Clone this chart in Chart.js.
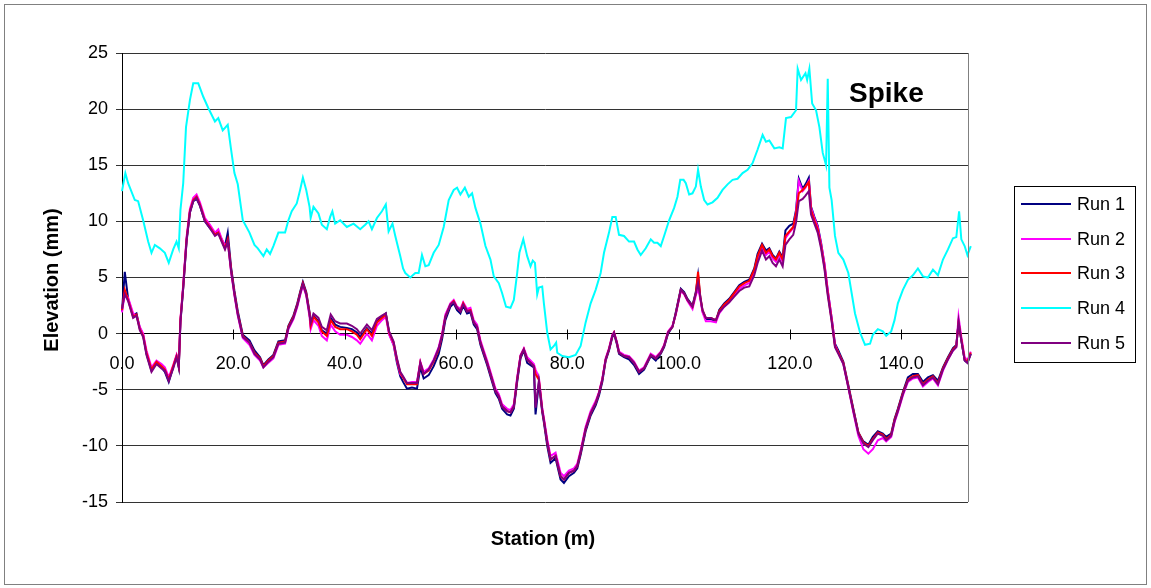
<!DOCTYPE html>
<html>
<head>
<meta charset="utf-8">
<title>Spike – Elevation profile</title>
<script src="https://cdn.jsdelivr.net/npm/chart.js@4/dist/chart.umd.min.js"></script>
<style>
  html, body { margin: 0; padding: 0; background: #ffffff; }
  canvas { display: block; }
</style>
</head>
<body>
<canvas id="chart" width="1151" height="588"></canvas>
<script>
// Survey stations (m) shared by runs 1, 2, 3 and 5
const stations = [
  0.0, 0.5, 1.1, 2.0, 2.6, 3.2, 3.8, 4.4, 5.3, 6.2,
  7.1, 7.7, 8.4, 9.2, 9.8, 10.2, 10.5, 11.0, 11.6, 12.2,
  12.8, 13.4, 14.0, 14.9, 15.8, 16.7, 17.3, 17.8, 18.5, 19.0,
  19.6, 20.2, 20.8, 21.7, 22.9, 23.8, 24.8, 25.4, 26.3, 27.2,
  28.1, 29.3, 29.9, 30.8, 31.5, 32.0, 32.5, 33.1, 33.7, 33.9,
  34.4, 35.3, 35.9, 36.8, 37.5, 38.3, 39.2, 40.4, 41.3, 42.2,
  42.8, 44.0, 44.9, 45.8, 46.7, 47.4, 48.0, 48.8, 49.4, 50.0,
  50.5, 51.2, 52.1, 53.0, 53.6, 54.2, 55.1, 56.0, 56.9, 57.5,
  58.1, 59.0, 59.6, 60.2, 60.8, 61.3, 62.0, 62.6, 63.2, 63.8,
  64.4, 65.0, 65.6, 66.5, 67.1, 67.7, 68.3, 69.2, 69.8, 70.4,
  71.0, 71.6, 72.2, 72.8, 73.4, 74.0, 74.3, 74.9, 75.5, 75.8,
  76.4, 77.0, 77.9, 78.8, 79.4, 80.3, 81.2, 81.8, 82.4, 83.3,
  84.2, 85.1, 85.7, 86.3, 86.9, 87.5, 88.1, 88.4, 88.9, 89.3,
  90.2, 91.1, 92.0, 92.9, 93.8, 95.0, 95.9, 96.8, 97.4, 98.1,
  98.9, 99.5, 100.4, 101.0, 101.6, 102.5, 103.1, 103.5, 103.9, 104.3,
  104.9, 105.8, 106.7, 107.3, 108.2, 109.1, 110.0, 110.9, 111.8, 112.7,
  113.6, 114.2, 115.0, 115.7, 116.3, 116.9, 117.5, 118.1, 118.7, 119.2,
  119.9, 120.6, 121.1, 121.6, 122.3, 122.8, 123.4, 123.8, 124.4, 125.0,
  125.6, 126.2, 126.8, 127.5, 128.1, 128.7, 129.6, 130.5, 131.4, 132.3,
  133.2, 134.1, 134.9, 135.8, 136.7, 137.3, 138.2, 138.8, 139.4, 140.3,
  141.2, 142.1, 143.0, 143.9, 144.8, 145.7, 146.6, 147.5, 148.4, 149.3,
  149.9, 150.3, 150.8, 151.4, 151.9, 152.5
];

// Survey stations (m) for run 4
const stationsRun4 = [
  0.0, 0.6, 1.1, 2.3, 2.9, 3.8, 4.7, 5.3, 5.9, 6.8,
  7.7, 8.4, 9.2, 9.8, 10.2, 10.5, 11.0, 11.5, 12.2, 12.8,
  13.7, 14.6, 15.5, 16.7, 17.3, 18.1, 19.0, 19.6, 20.2, 20.8,
  21.7, 22.9, 23.8, 24.4, 25.4, 26.0, 26.6, 27.2, 28.1, 29.3,
  29.9, 30.5, 31.4, 32.0, 32.5, 33.1, 33.7, 33.9, 34.4, 35.3,
  35.9, 36.8, 37.4, 37.8, 38.3, 39.2, 40.4, 41.6, 42.8, 43.7,
  44.3, 44.9, 45.8, 46.7, 47.4, 47.9, 48.6, 49.1, 50.0, 50.5,
  50.9, 51.8, 52.7, 53.3, 53.9, 54.5, 55.1, 56.0, 56.9, 57.8,
  58.7, 59.6, 60.2, 60.8, 61.6, 62.3, 62.9, 63.5, 64.4, 65.3,
  66.2, 66.8, 67.7, 68.3, 69.0, 69.8, 70.4, 71.0, 71.4, 72.1,
  72.8, 73.4, 73.8, 74.2, 74.6, 74.9, 75.5, 75.8, 76.4, 77.0,
  77.6, 78.0, 78.2, 79.1, 80.3, 81.5, 82.4, 83.3, 84.2, 85.1,
  86.0, 86.6, 87.5, 88.1, 88.7, 89.3, 90.2, 91.1, 92.0, 92.6,
  93.2, 94.1, 95.0, 95.6, 96.2, 96.8, 97.4, 98.3, 99.2, 99.8,
  100.3, 100.9, 101.3, 101.9, 102.5, 103.1, 103.5, 104.0, 104.6, 105.2,
  106.1, 107.0, 107.9, 108.8, 109.7, 110.6, 111.5, 112.4, 113.3, 114.2,
  115.1, 115.7, 116.3, 117.2, 118.1, 118.7, 119.3, 120.2, 121.1, 121.4,
  122.0, 122.8, 123.1, 123.5, 124.0, 124.7, 125.3, 125.9, 126.5, 126.8,
  127.1, 127.5, 128.1, 128.7, 129.6, 130.5, 131.1, 131.7, 132.6, 133.5,
  134.4, 134.9, 135.8, 136.7, 137.3, 138.2, 138.8, 139.4, 140.3, 141.2,
  142.1, 143.0, 143.9, 144.8, 145.7, 146.6, 147.5, 148.4, 149.3, 149.9,
  150.4, 150.8, 151.4, 151.9, 152.5
];

// Elevations (mm)
const run1 = [
  2.0, 5.5, 3.1, 1.6, 1.8, 0.5, -0.1, -1.8, -3.3, -2.6,
  -3.0, -3.4, -4.3, -3.0, -2.0, -3.0, 1.0, 4.1, 8.2, 10.8,
  11.8, 12.0, 11.4, 10.0, 9.4, 8.9, 9.1, 8.5, 7.8, 9.0,
  5.9, 3.8, 2.0, -0.1, -0.6, -1.5, -2.1, -2.8, -2.3, -1.9,
  -0.7, -0.6, 0.7, 1.6, 2.7, 3.7, 4.6, 3.7, 1.9, 0.8,
  1.6, 1.1, 0.3, 0.0, 1.4, 0.8, 0.6, 0.5, 0.4, 0.1,
  -0.3, 0.5, 0.0, 1.1, 1.5, 1.8, 0.0, -1.0, -2.6, -3.8,
  -4.3, -4.9, -4.8, -4.9, -3.0, -4.0, -3.7, -2.9, -1.8, -0.5,
  1.2, 2.4, 2.7, 2.1, 1.8, 2.5, 1.8, 1.9, 0.8, 0.4,
  -1.0, -1.9, -2.8, -4.3, -5.3, -5.8, -6.7, -7.2, -7.3, -6.7,
  -4.3, -2.2, -1.5, -2.6, -2.8, -3.0, -7.2, -4.4, -7.0, -7.9,
  -10.0, -11.5, -11.1, -13.0, -13.3, -12.7, -12.4, -12.0, -10.8, -8.7,
  -7.3, -6.4, -5.5, -4.3, -2.4, -1.5, -0.3, 0.0, -0.9, -1.8,
  -2.1, -2.3, -2.8, -3.6, -3.2, -2.0, -2.4, -1.8, -1.2, 0.0,
  0.6, 1.9, 4.0, 3.7, 3.1, 2.5, 3.7, 5.2, 3.2, 2.0,
  1.3, 1.3, 1.1, 2.1, 2.7, 3.1, 3.7, 4.3, 4.6, 4.8,
  5.8, 7.1, 8.0, 7.4, 7.6, 7.0, 6.7, 7.3, 6.8, 9.2,
  9.6, 9.8, 11.0, 13.8, 12.9, 13.3, 13.9, 11.3, 10.4, 9.6,
  8.1, 6.2, 3.8, 1.4, -0.9, -1.5, -2.5, -4.6, -6.7, -8.8,
  -9.6, -9.9, -9.2, -8.7, -8.9, -9.2, -8.9, -7.6, -6.7, -5.2,
  -3.9, -3.6, -3.6, -4.3, -3.9, -3.7, -4.2, -3.0, -2.1, -1.3,
  -1.0, 0.9, -0.6, -2.4, -2.6, -1.8
];

const run2 = [
  1.9, 3.6, 3.2, 1.8, 1.6, 0.6, 0.0, -1.5, -3.0, -2.4,
  -2.7, -3.0, -3.9, -2.8, -1.9, -2.7, 1.3, 4.4, 8.6, 11.1,
  12.1, 12.4, 11.7, 10.3, 9.7, 9.0, 9.3, 8.6, 7.8, 8.2,
  5.5, 3.4, 1.6, -0.4, -1.0, -1.9, -2.4, -3.0, -2.6, -2.2,
  -1.0, -0.9, 0.4, 1.3, 2.4, 3.4, 4.3, 3.4, 1.5, 0.4,
  1.2, 0.7, -0.2, -0.6, 0.8, 0.2, -0.1, -0.1, -0.3, -0.6,
  -0.9, 0.0, -0.6, 0.7, 1.2, 1.5, -0.1, -1.0, -2.4, -3.6,
  -3.9, -4.4, -4.3, -4.3, -2.5, -3.4, -3.1, -2.3, -1.2, 0.0,
  1.7, 2.7, 3.0, 2.4, 2.2, 2.8, 2.2, 2.3, 1.2, 0.8,
  -0.6, -1.5, -2.4, -3.9, -4.9, -5.4, -6.3, -6.7, -6.8, -6.3,
  -3.9, -1.9, -1.3, -2.1, -2.4, -2.7, -3.2, -3.9, -6.6, -7.5,
  -9.4, -10.9, -10.6, -12.4, -12.7, -12.2, -12.0, -11.6, -10.4, -8.3,
  -6.9, -6.0, -5.2, -4.0, -2.2, -1.3, -0.1, 0.1, -0.7, -1.6,
  -1.9, -2.0, -2.5, -3.3, -3.0, -1.8, -2.1, -1.6, -1.0, 0.2,
  0.7, 1.7, 3.8, 3.5, 2.9, 2.2, 3.4, 4.0, 3.1, 1.9,
  1.1, 1.1, 1.0, 1.8, 2.4, 2.8, 3.4, 4.0, 4.3, 4.5,
  5.5, 6.7, 7.7, 7.0, 7.3, 6.7, 6.4, 7.0, 6.4, 8.5,
  9.0, 9.4, 10.8, 13.6, 12.7, 13.0, 13.6, 11.2, 10.3, 9.5,
  8.0, 6.3, 3.9, 1.4, -1.0, -1.7, -2.7, -4.8, -7.0, -9.1,
  -10.3, -10.7, -10.3, -9.5, -9.3, -9.6, -9.2, -7.9, -7.0, -5.5,
  -4.3, -4.0, -3.9, -4.7, -4.3, -4.0, -4.6, -3.3, -2.3, -1.5,
  -1.2, 1.5, -0.3, -2.1, -2.4, -1.6
];

const run3 = [
  2.1, 3.9, 3.0, 1.5, 1.7, 0.4, -0.2, -1.7, -3.2, -2.5,
  -2.9, -3.2, -4.1, -2.9, -2.0, -2.9, 1.2, 4.2, 8.4, 10.9,
  11.9, 12.2, 11.5, 10.1, 9.5, 8.8, 9.0, 8.4, 7.6, 8.4,
  5.7, 3.6, 1.8, -0.2, -0.8, -1.7, -2.2, -2.9, -2.4, -2.0,
  -0.8, -0.7, 0.6, 1.5, 2.6, 3.6, 4.5, 3.6, 1.8, 0.7,
  1.5, 1.0, 0.2, -0.2, 1.2, 0.6, 0.4, 0.4, 0.2, -0.1,
  -0.5, 0.4, -0.2, 1.0, 1.4, 1.7, 0.1, -0.8, -2.3, -3.5,
  -3.9, -4.5, -4.5, -4.5, -2.6, -3.6, -3.3, -2.5, -1.4, -0.2,
  1.5, 2.6, 2.9, 2.3, 2.0, 2.7, 2.0, 2.1, 1.0, 0.6,
  -0.8, -1.7, -2.6, -4.1, -5.1, -5.6, -6.5, -6.9, -7.0, -6.5,
  -4.1, -2.0, -1.4, -2.3, -2.6, -2.9, -3.6, -4.1, -6.8, -7.7,
  -9.7, -11.2, -10.9, -12.7, -13.0, -12.4, -12.2, -11.8, -10.6, -8.5,
  -7.1, -6.2, -5.3, -4.1, -2.3, -1.4, -0.2, 0.1, -0.8, -1.7,
  -2.0, -2.1, -2.6, -3.4, -3.1, -1.9, -2.2, -1.7, -1.1, 0.1,
  0.6, 1.8, 3.9, 3.6, 3.0, 2.4, 3.6, 5.5, 3.3, 2.1,
  1.4, 1.4, 1.2, 2.0, 2.6, 3.0, 3.6, 4.2, 4.5, 4.7,
  5.7, 6.9, 7.9, 7.2, 7.5, 6.9, 6.6, 7.2, 6.6, 8.7,
  9.1, 9.5, 10.7, 12.5, 12.8, 13.1, 13.5, 11.0, 10.1, 9.3,
  7.8, 6.0, 3.6, 1.2, -1.1, -1.7, -2.6, -4.7, -6.8, -8.8,
  -9.7, -10.0, -9.4, -8.8, -9.0, -9.4, -9.0, -7.7, -6.8, -5.3,
  -4.1, -3.8, -3.7, -4.5, -4.1, -3.8, -4.4, -3.1, -2.2, -1.4,
  -1.1, 1.0, -0.5, -2.3, -2.5, -1.7
];

const run4 = [
  12.7, 14.3, 13.4, 11.9, 11.8, 10.1, 8.2, 7.2, 7.9, 7.6,
  7.2, 6.3, 7.5, 8.2, 7.6, 11.0, 13.4, 18.4, 20.8, 22.3,
  22.3, 21.1, 20.1, 18.9, 19.2, 18.1, 18.6, 16.4, 14.3, 13.3,
  10.1, 9.0, 7.9, 7.6, 6.9, 7.5, 7.1, 7.8, 9.0, 9.0,
  10.1, 10.9, 11.6, 12.8, 13.9, 12.8, 11.3, 10.3, 11.3, 10.7,
  9.7, 9.3, 10.4, 10.9, 9.8, 10.1, 9.5, 9.8, 9.3, 9.7,
  10.0, 9.3, 10.3, 10.9, 11.5, 9.1, 9.8, 8.7, 6.9, 5.8,
  5.4, 5.0, 5.4, 5.4, 7.0, 6.0, 6.1, 7.2, 7.9, 9.5,
  11.9, 12.8, 13.0, 12.4, 13.0, 12.2, 12.5, 11.2, 9.8, 7.8,
  6.6, 5.1, 4.5, 3.6, 2.4, 2.3, 3.0, 5.4, 7.2, 8.4,
  6.9, 6.0, 6.5, 6.3, 3.5, 4.1, 4.2, 2.7, 0.1, -1.4,
  -1.1, -0.8, -1.7, -2.0, -2.1, -1.9, -1.1, 1.0, 2.7, 3.9,
  5.4, 7.2, 9.0, 10.4, 10.4, 8.8, 8.7, 8.2, 8.2, 7.5,
  7.0, 7.6, 8.4, 8.1, 8.1, 7.8, 8.7, 10.1, 11.2, 12.2,
  13.7, 13.7, 13.4, 12.4, 12.5, 13.1, 14.6, 13.1, 11.9, 11.5,
  11.7, 12.1, 12.8, 13.3, 13.7, 13.8, 14.3, 14.6, 15.2, 16.4,
  17.7, 17.1, 17.2, 16.5, 16.6, 16.5, 19.2, 19.3, 19.9, 23.6,
  22.6, 23.2, 22.6, 23.6, 20.5, 19.9, 18.4, 16.1, 15.0, 22.7,
  13.0, 11.9, 8.7, 7.2, 6.6, 5.4, 3.6, 1.8, 0.1, -1.0,
  -0.9, -0.1, 0.4, 0.2, -0.2, 0.2, 1.2, 2.7, 3.9, 4.8,
  5.2, 5.8, 5.1, 5.0, 5.7, 5.2, 6.6, 7.5, 8.5, 8.6,
  10.9, 8.4, 7.8, 7.0, 7.8
];

const run5 = [
  2.2, 3.5, 2.9, 1.4, 1.6, 0.3, -0.3, -1.9, -3.4, -2.7,
  -3.1, -3.3, -4.2, -3.1, -2.1, -3.0, 1.1, 4.1, 8.3, 10.8,
  11.8, 12.1, 11.4, 10.0, 9.4, 8.7, 8.9, 8.3, 7.5, 8.2,
  5.6, 3.5, 1.7, -0.3, -0.8, -1.8, -2.3, -3.0, -2.5, -2.1,
  -0.9, -0.8, 0.5, 1.4, 2.5, 3.5, 4.4, 3.5, 1.7, 1.0,
  1.8, 1.4, 0.6, 0.3, 1.7, 1.1, 0.9, 0.9, 0.7, 0.4,
  0.0, 0.8, 0.3, 1.3, 1.6, 1.8, 0.2, -0.7, -2.2, -3.4,
  -3.8, -4.4, -4.4, -4.4, -2.6, -3.6, -3.2, -2.4, -1.3, -0.2,
  1.5, 2.6, 2.8, 2.3, 2.0, 2.6, 2.0, 2.0, 1.0, 0.6,
  -0.8, -1.7, -2.6, -4.1, -5.1, -5.6, -6.5, -6.9, -7.0, -6.5,
  -4.1, -2.0, -1.4, -2.3, -2.6, -2.9, -6.6, -4.2, -6.8, -7.7,
  -9.7, -11.2, -10.9, -12.7, -13.0, -12.4, -12.2, -11.8, -10.6, -8.5,
  -7.1, -6.2, -5.3, -4.1, -2.3, -1.4, -0.2, 0.1, -0.8, -1.7,
  -2.0, -2.1, -2.6, -3.4, -3.1, -1.9, -2.2, -1.7, -1.1, 0.1,
  0.6, 1.8, 3.9, 3.6, 3.0, 2.4, 3.6, 4.5, 3.3, 2.1,
  1.4, 1.4, 1.2, 1.9, 2.4, 2.8, 3.3, 3.8, 4.1, 4.2,
  5.2, 6.3, 7.4, 6.6, 6.9, 6.3, 6.0, 6.6, 6.0, 7.9,
  8.4, 8.8, 9.9, 11.8, 12.0, 12.3, 12.7, 10.6, 9.8, 9.0,
  7.6, 5.8, 3.4, 1.1, -1.2, -1.8, -2.7, -4.8, -6.9, -8.9,
  -9.8, -10.1, -9.5, -8.9, -9.1, -9.5, -9.1, -7.8, -6.9, -5.4,
  -4.2, -3.9, -3.8, -4.6, -4.2, -3.9, -4.5, -3.2, -2.3, -1.5,
  -1.2, 1.1, -0.6, -2.4, -2.6, -1.8
];

const seriesLabels = ['Run 1', 'Run 2', 'Run 3', 'Run 4', 'Run 5'];
const seriesColors = ['#000080', '#FF00FF', '#FF0000', '#00FFFF', '#800080'];
const yTickValues = [-15, -10, -5, 0, 5, 10, 15, 20, 25];
const xTickValues = [0, 20, 40, 60, 80, 100, 120, 140];
const chartTitle = 'Spike';
const xAxisTitle = 'Station (m)';
const yAxisTitle = 'Elevation (mm)';

const FONT = "'Liberation Sans', Arial, Helvetica, sans-serif";

function toPoints(xs, ys) {
  const n = Math.min(xs.length, ys.length);
  const pts = [];
  for (let i = 0; i < n; i++) pts.push({ x: xs[i], y: ys[i] });
  return pts;
}

const seriesData = [
  toPoints(stations, run1),
  toPoints(stations, run2),
  toPoints(stations, run3),
  toPoints(stationsRun4, run4),
  toPoints(stations, run5)
];

// Run 5 is drawn last (on top), Run 1 first
const drawOrder = [4, 3, 2, 1, 0];

const datasets = seriesLabels.map((label, i) => ({
  label,
  data: seriesData[i],
  borderColor: seriesColors[i],
  backgroundColor: seriesColors[i],
  borderWidth: 2,
  pointRadius: 0,
  tension: 0,
  fill: false,
  order: drawOrder[i],
  clip: { left: 2, top: 2, right: 4, bottom: 2 }
}));

// Frame, plot border, cross tick marks, legend and titles
const decorations = {
  id: 'decorations',
  beforeDraw(chart) {
    const ctx = chart.ctx;
    ctx.save();
    ctx.fillStyle = '#ffffff';
    ctx.fillRect(0, 0, chart.width, chart.height);
    ctx.strokeStyle = '#808080';
    ctx.lineWidth = 1;
    ctx.strokeRect(4.5, 4.5, 1142, 580);
    ctx.restore();
  },
  afterDraw(chart) {
    const ctx = chart.ctx;
    const area = chart.chartArea;
    const xs = chart.scales.x;
    const ys = chart.scales.y;
    ctx.save();

    // right edge of plot area
    ctx.strokeStyle = '#808080';
    ctx.lineWidth = 1;
    ctx.beginPath();
    ctx.moveTo(Math.round(area.right) + 0.5, area.top);
    ctx.lineTo(Math.round(area.right) + 0.5, area.bottom);
    ctx.stroke();

    // tick marks crossing the horizontal axis
    const y0 = Math.round(ys.getPixelForValue(0)) + 0.5;
    ctx.strokeStyle = '#000000';
    ctx.beginPath();
    xTickValues.forEach(v => {
      const px = Math.round(xs.getPixelForValue(v)) + 0.5;
      ctx.moveTo(px, y0 - 5);
      ctx.lineTo(px, y0 + 5);
    });
    ctx.stroke();

    // legend
    const lx = 1014.5, ly = 186.5, lw = 121, lh = 176;
    ctx.fillStyle = '#ffffff';
    ctx.fillRect(lx, ly, lw, lh);
    ctx.strokeStyle = '#000000';
    ctx.lineWidth = 1;
    ctx.strokeRect(lx, ly, lw, lh);
    ctx.font = '18px ' + FONT;
    ctx.textBaseline = 'middle';
    ctx.textAlign = 'left';
    seriesLabels.forEach((label, i) => {
      const yy = 204 + i * 34.7;
      ctx.strokeStyle = seriesColors[i];
      ctx.lineWidth = 2;
      ctx.beginPath();
      ctx.moveTo(1021, Math.round(yy));
      ctx.lineTo(1071, Math.round(yy));
      ctx.stroke();
      ctx.fillStyle = '#000000';
      ctx.fillText(label, 1077, yy + 1);
    });

    // chart title
    ctx.fillStyle = '#000000';
    ctx.font = 'bold 28px ' + FONT;
    ctx.textBaseline = 'alphabetic';
    ctx.textAlign = 'left';
    ctx.fillText(chartTitle, 849, 102);

    // axis titles
    ctx.font = 'bold 20px ' + FONT;
    ctx.textAlign = 'center';
    ctx.fillText(xAxisTitle, 543, 545);
    ctx.translate(58, 280);
    ctx.rotate(-Math.PI / 2);
    ctx.fillText(yAxisTitle, 0, 0);

    ctx.restore();
  }
};

new Chart(document.getElementById('chart'), {
  type: 'line',
  data: { datasets },
  plugins: [decorations],
  options: {
    responsive: false,
    animation: false,
    events: [],
    layout: { padding: { left: 0, right: 183, top: 53, bottom: 86 } },
    plugins: {
      legend: { display: false },
      tooltip: { enabled: false },
      title: { display: false }
    },
    scales: {
      x: {
        type: 'linear',
        min: 0,
        max: 152.0,
        position: { y: 0 },
        afterBuildTicks: s => { s.ticks = xTickValues.map(v => ({ value: v })); },
        ticks: {
          callback: v => Number(v).toFixed(1),
          color: '#000000',
          font: { family: FONT, size: 18 },
          padding: 12,
          maxRotation: 0,
          autoSkip: false
        },
        grid: { display: false },
        border: { display: true, color: '#000000', width: 1 }
      },
      y: {
        type: 'linear',
        min: -15,
        max: 25,
        afterBuildTicks: s => { s.ticks = yTickValues.map(v => ({ value: v })); },
        afterFit: s => { s.width = 122; },
        ticks: {
          color: '#000000',
          font: { family: FONT, size: 18 },
          padding: 8
        },
        grid: {
          color: '#333333',
          lineWidth: 1,
          tickLength: 6,
          drawTicks: true
        },
        border: { display: true, color: '#000000', width: 1 }
      }
    }
  }
});
</script>
</body>
</html>
